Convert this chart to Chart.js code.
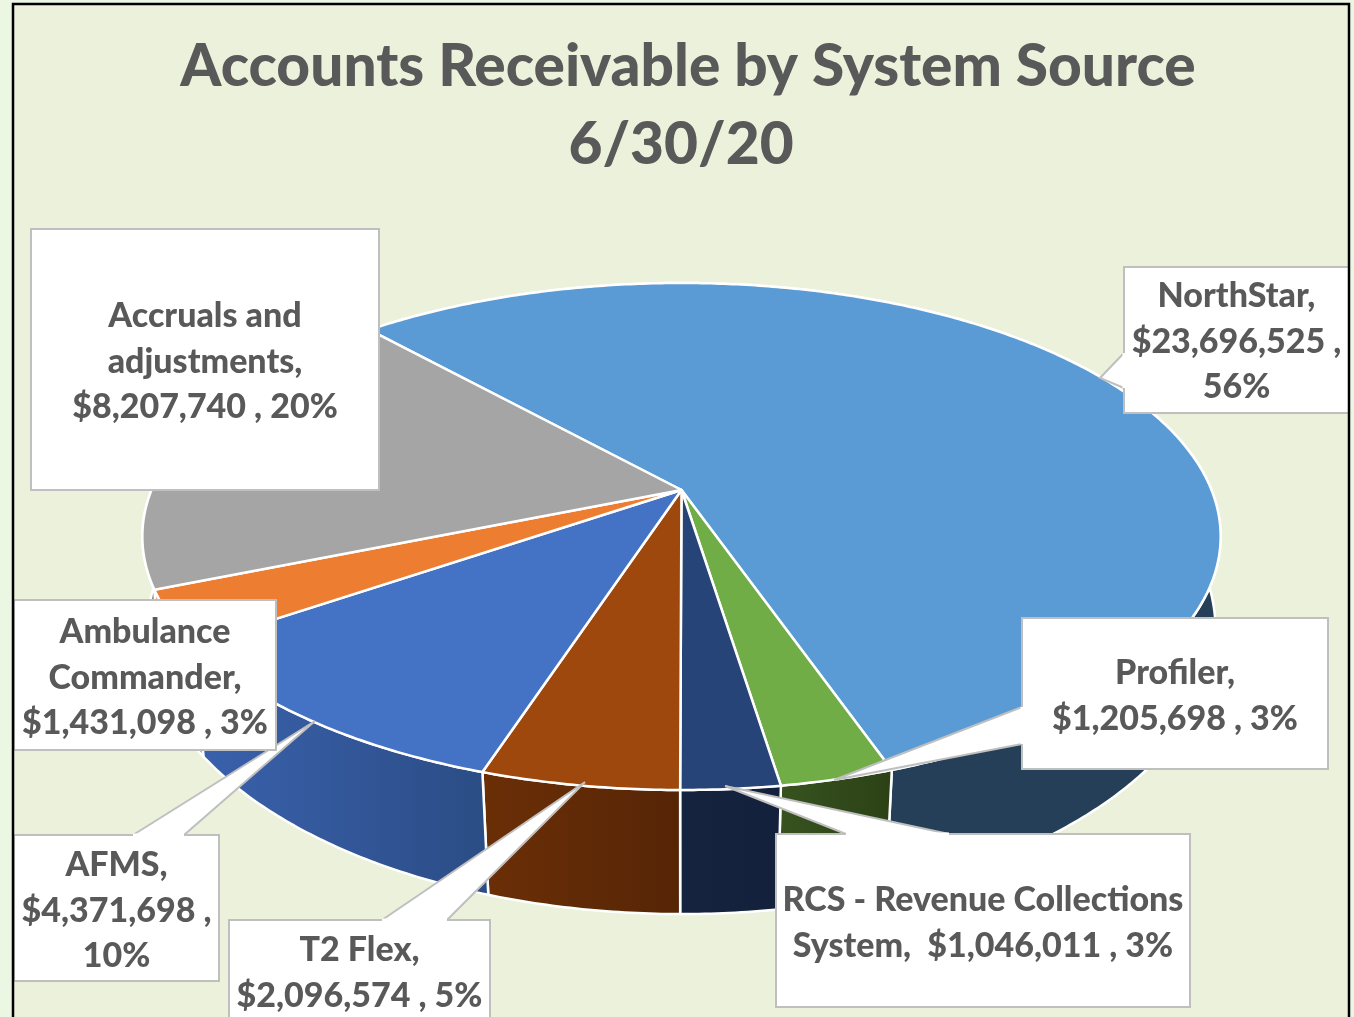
<!DOCTYPE html>
<html>
<head>
<meta charset="utf-8">
<title>Accounts Receivable by System Source</title>
<script src="https://cdn.jsdelivr.net/npm/chart.js@4"></script>
<style>
    html, body { margin: 0; padding: 0; background: #ebf6e3; overflow: hidden; }
    canvas { display: block; }
</style>
</head>
<body>
<canvas id="chartCanvas" width="1354" height="1017"></canvas>
<script>
const categories = ["NorthStar", "Profiler", "RCS - Revenue Collections System", "T2 Flex", "AFMS", "Ambulance Commander", "Accruals and adjustments"];
const amounts = [23696525, 1205698, 1046011, 2096574, 4371698, 1431098, 8207740];
const percents = [56, 3, 3, 5, 10, 3, 20];
// the nbsp pulls the date a little left of the first line, like the original
const titleLines = ["Accounts Receivable by System Source", "6/30/20\u00a0"];

const topColors = ["#5b9bd5", "#70ad47", "#264478", "#9e480e", "#4472c4", "#ed7d31", "#a5a5a5"];
const wallColors = [
    ["#243f57", "#243f57"], ["#37521f", "#2c4216"], ["#14233f", "#14213c"], ["#6b2f06", "#562506"],
    ["#3a61ad", "#2b4d85"], ["#d9722c", "#d9722c"], ["#8a8a8a", "#8a8a8a"]
];

// perspective of the disc: upper face and lower face of the 3D pie
const topFace = { cx: 681.5, a: 530, k: 0.1834, b: 155.1, c: 490 };
const lowFace = { cx: 681.5, a: 527, k: 0.162, b: 182, c: 584 };

function project(face, angle) {
    const u = Math.cos(angle), v = Math.sin(angle);
    const w = 1 - face.k * v;
    return { x: face.cx + face.a * u / w, y: (face.b * v + face.c) / w };
}

function arcPoints(face, start, end) {
    const n = Math.max(2, Math.ceil((end - start) / 0.01));
    const pts = [];
    for (let i = 0; i <= n; i++) pts.push(project(face, start + (end - start) * i / n));
    return pts;
}

function tracePoints(ctx, pts, first) {
    pts.forEach((p, i) => {
        if (i === 0 && first) ctx.moveTo(p.x, p.y);
        else ctx.lineTo(p.x, p.y);
    });
}

// label boxes, in the order of the categories. line text is split like the original
const labels = [
    { box: [1124, 267, 225, 146], lines: ["NorthStar,", "$23,696,525 ,", "56%"], base: 307,
      leader: [[1124, 353], [1100, 378], [1124, 388]] },
    { box: [1022, 618, 306, 151], lines: ["Profiler,", "$1,205,698 , 3%"], base: 684,
      leader: [[1022, 707], [834, 780], [1022, 744]] },
    { box: [776, 834, 414, 173], lines: ["RCS - Revenue Collections", "System,  $1,046,011 , 3%"], base: 911,
      leader: [[846, 834], [725, 786], [949, 834]] },
    { box: [229, 920, 261, 120], lines: ["T2 Flex,", "$2,096,574 , 5%"], base: 961,
      leader: [[382, 920], [585, 782], [447, 920]] },
    { box: [14, 835, 205, 146], lines: ["AFMS,", "$4,371,698 ,", "10%"], base: 876,
      leader: [[133, 835], [315, 721], [184, 835]] },
    { box: [14, 600, 262, 150], lines: ["Ambulance", "Commander,", "$1,431,098 , 3%"], base: 643 },
    { box: [31, 229, 348, 261], lines: ["Accruals and", "adjustments,", "$8,207,740 , 20%"], base: 327 }
];

function drawLabel(ctx, item) {
    const [x, y, w, h] = item.box;
    ctx.fillStyle = "#ffffff";
    ctx.strokeStyle = "#bfbfbf";
    ctx.lineWidth = 2;
    ctx.fillRect(x, y, w, h);
    ctx.strokeRect(x, y, w, h);
    if (item.leader) {
        const [p1, tip, p2] = item.leader;
        ctx.beginPath();
        ctx.moveTo(p1[0], p1[1]);
        ctx.lineTo(tip[0], tip[1]);
        ctx.lineTo(p2[0], p2[1]);
        ctx.closePath();
        ctx.fill();
        ctx.beginPath();
        ctx.moveTo(p1[0], p1[1]);
        ctx.lineTo(tip[0], tip[1]);
        ctx.lineTo(p2[0], p2[1]);
        ctx.stroke();
        // open the box edge under the leader
        ctx.strokeStyle = "#ffffff";
        ctx.lineWidth = 3;
        ctx.beginPath();
        ctx.moveTo(p1[0], p1[1]);
        ctx.lineTo(p2[0], p2[1]);
        ctx.stroke();
    }
    ctx.fillStyle = "#595959";
    ctx.font = "900 34px Lato";
    ctx.textAlign = "center";
    ctx.textBaseline = "alphabetic";
    item.lines.forEach((line, i) => {
        ctx.fillText(line, x + w / 2, item.base + i * 45.5);
    });
}

const pie3d = {
    id: "pie3d",
    beforeDraw(chart) {
        const ctx = chart.ctx;
        ctx.save();
        ctx.fillStyle = "#ecf1db";
        ctx.fillRect(13, 4, 1336, 1013);
        ctx.restore();
    },
    beforeDatasetDraw(chart, args) {
        const ctx = chart.ctx;
        const arcs = args.meta.data;
        ctx.save();
        ctx.lineJoin = "round";
        ctx.strokeStyle = "#ffffff";
        ctx.lineWidth = 2.5;
        // side walls first, the upper face hides what is behind it
        arcs.forEach((arc, i) => {
            const upper = arcPoints(topFace, arc.startAngle, arc.endAngle);
            const lower = arcPoints(lowFace, arc.startAngle, arc.endAngle);
            const xs = upper.concat(lower).map(p => p.x);
            const grad = ctx.createLinearGradient(Math.min(...xs), 0, Math.max(...xs), 0);
            grad.addColorStop(0, wallColors[i][0]);
            grad.addColorStop(1, wallColors[i][1]);
            ctx.fillStyle = grad;
            ctx.beginPath();
            tracePoints(ctx, upper, true);
            tracePoints(ctx, lower.reverse(), false);
            ctx.closePath();
            ctx.fill();
            ctx.stroke();
        });
        arcs.forEach(arc => {
            ctx.fillStyle = arc.options.backgroundColor;
            ctx.beginPath();
            ctx.moveTo(topFace.cx, topFace.c);
            tracePoints(ctx, arcPoints(topFace, arc.startAngle, arc.endAngle), false);
            ctx.closePath();
            ctx.fill();
            ctx.stroke();
        });
        ctx.restore();
        return false;
    },
    afterDraw(chart) {
        const ctx = chart.ctx;
        ctx.save();
        // same stacking as the original labels
        [6, 0, 1, 2, 4, 3, 5].forEach(i => drawLabel(ctx, labels[i]));
        ctx.strokeStyle = "#000000";
        ctx.lineWidth = 2.5;
        ctx.beginPath();
        ctx.moveTo(13, 1017);
        ctx.lineTo(13, 4);
        ctx.lineTo(1349, 4);
        ctx.lineTo(1349, 1017);
        ctx.stroke();
        ctx.restore();
    }
};

new Chart(document.getElementById("chartCanvas").getContext("2d"), {
    type: "pie",
    data: {
        labels: categories,
        datasets: [{
            data: amounts,
            backgroundColor: topColors
        }]
    },
    options: {
        responsive: false,
        animation: false,
        rotation: -42,
        layout: { padding: { left: 22 } },
        plugins: {
            legend: { display: false },
            tooltip: { enabled: false },
            title: {
                display: true,
                text: titleLines,
                color: "#595959",
                font: { family: "Lato", size: 58.6, weight: "900", lineHeight: 1.33 },
                padding: { top: 28, bottom: 0 }
            }
        }
    },
    plugins: [pie3d]
});
</script>
</body>
</html>
